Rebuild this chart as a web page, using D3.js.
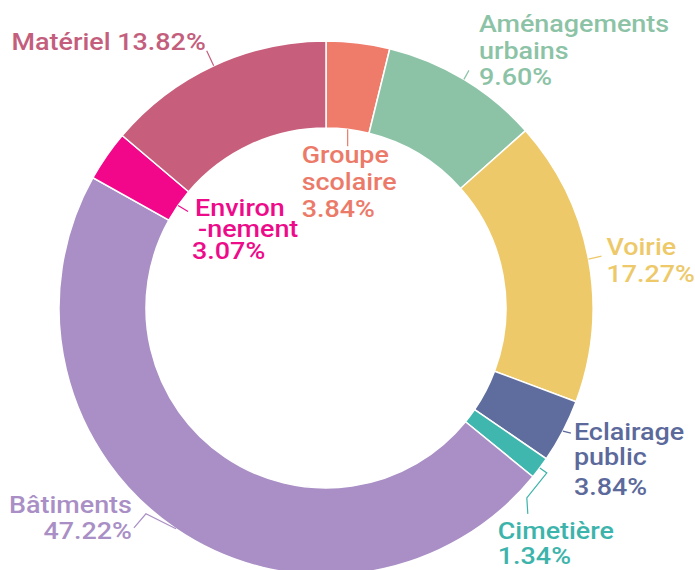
<!DOCTYPE html>
<html>
<head>
<meta charset="utf-8">
<script src="https://cdn.jsdelivr.net/npm/d3@7"></script>
<style>
  html, body { margin: 0; padding: 0; background: #fff; }
  #chart { width: 695px; height: 570px; }
  .label { font-family: Roboto, "Noto Sans", sans-serif; font-size: 23px; font-weight: 500; }
</style>
</head>
<body>
<div id="chart"></div>
<script>
// Budget shares, clockwise from 12 o'clock
const categories = ["Groupe scolaire", "Aménagements urbains", "Voirie", "Eclairage public",
  "Cimetière", "Bâtiments", "Environnement", "Matériel"];
const shares = [3.84, 9.60, 17.27, 3.84, 1.34, 47.22, 3.07, 13.82];
const labelLines = [
  ["Groupe", "scolaire", "3.84%"],
  ["Aménagements", "urbains", "9.60%"],
  ["Voirie", "17.27%"],
  ["Eclairage", "public", "3.84%"],
  ["Cimetière", "1.34%"],
  ["Bâtiments", "47.22%"],
  ["Environ", "-nement", "3.07%"],
  ["Matériel 13.82%"],
];
const sliceColors = ["#ef7b6b", "#8cc3a6", "#edc96a", "#5e6d9d", "#3fb7ae", "#a98fc5", "#f2068a", "#c75e7c"];
const textColors  = ["#ec7a69", "#8cc3a6", "#edc96a", "#5c699b", "#3db4ab", "#a98fc5", "#ee0b8a", "#c45e7d"];

const width = 695, height = 570;
const cx = 326, cy = 308;
const outerR = 267, innerR = 180;
const textStretch = 1.17; // labels in the original are drawn wide

// label layout: which ring edge the leader starts at, leader bends, text offset, line offsets
const labelLayout = [
  { edge: "in",  leader: [[0, 17]], anchor: "start", dx: -46, dy: 34, lines: [[0, 0], [0, 27], [0, 54]] },
  { edge: "out", leader: [[5, -9]], anchor: "start", dx: 15, dy: -47, lines: [[0, 0], [0, 27], [0, 53]] },
  { edge: "out", leader: [[13, -3]], anchor: "start", dx: 18, dy: -4, lines: [[0, 0], [0, 27]] },
  { edge: "out", leader: [[8, 2]], anchor: "start", dx: 11, dy: 9, lines: [[0, 0], [0, 25], [0, 55]] },
  { edge: "out", leader: [[7, 5], [-13, 30], [-12, 46]], anchor: "start", dx: -42, dy: 71, lines: [[0, 0], [0, 25]] },
  { edge: "out", leader: [[-30, -15], [-42, -1]], anchor: "end", dx: -44, dy: -16, lines: [[0, 0], [0, 26]] },
  { edge: "in",  leader: [[10, 6]], anchor: "start", dx: 17, dy: 11, lines: [[0, 0], [3, 21], [-3, 43]] },
  { edge: "out", leader: [[-7, -15]], anchor: "end", dx: -8, dy: -16, lines: [[0, 0]] },
];

const data = categories.map((c, i) => ({ name: c, value: shares[i], i }));

const pie = d3.pie().sort(null).value(d => d.value);
const arc = d3.arc().innerRadius(innerR).outerRadius(outerR);
const arcs = pie(data);

const svg = d3.select("#chart").append("svg")
  .attr("width", width).attr("height", height)
  .attr("viewBox", [0, 0, width, height]);

const g = svg.append("g").attr("transform", `translate(${cx},${cy})`);

g.selectAll("path.slice")
  .data(arcs)
  .join("path")
  .attr("class", "slice")
  .attr("d", arc)
  .attr("fill", d => sliceColors[d.data.i])
  .attr("stroke", "#fff")
  .attr("stroke-width", 1.5);

// leader lines and labels
const edgePoint = (d, r) => {
  const a = (d.startAngle + d.endAngle) / 2;
  return [r * Math.sin(a), -r * Math.cos(a)];
};

const labels = g.selectAll("g.lab")
  .data(arcs)
  .join("g")
  .attr("class", "lab");

labels.append("path")
  .attr("fill", "none")
  .attr("stroke", d => textColors[d.data.i])
  .attr("stroke-width", 1.2)
  .attr("d", d => {
    const L = labelLayout[d.data.i];
    const p = edgePoint(d, L.edge === "in" ? innerR : outerR);
    return d3.line()([p, ...L.leader.map(o => [p[0] + o[0], p[1] + o[1]])]);
  });

labels.append("text")
  .attr("class", "label")
  .attr("fill", d => textColors[d.data.i])
  .attr("text-anchor", d => labelLayout[d.data.i].anchor)
  .attr("transform", d => {
    const L = labelLayout[d.data.i];
    const p = edgePoint(d, L.edge === "in" ? innerR : outerR);
    return `translate(${p[0] + L.dx},${p[1] + L.dy}) scale(${textStretch},1)`;
  })
  .each(function (d) {
    const L = labelLayout[d.data.i];
    d3.select(this).selectAll("tspan")
      .data(labelLines[d.data.i])
      .join("tspan")
      .attr("x", (t, j) => L.lines[j][0] / textStretch)
      .attr("y", (t, j) => L.lines[j][1])
      .text(t => t);
  });
</script>
</body>
</html>
